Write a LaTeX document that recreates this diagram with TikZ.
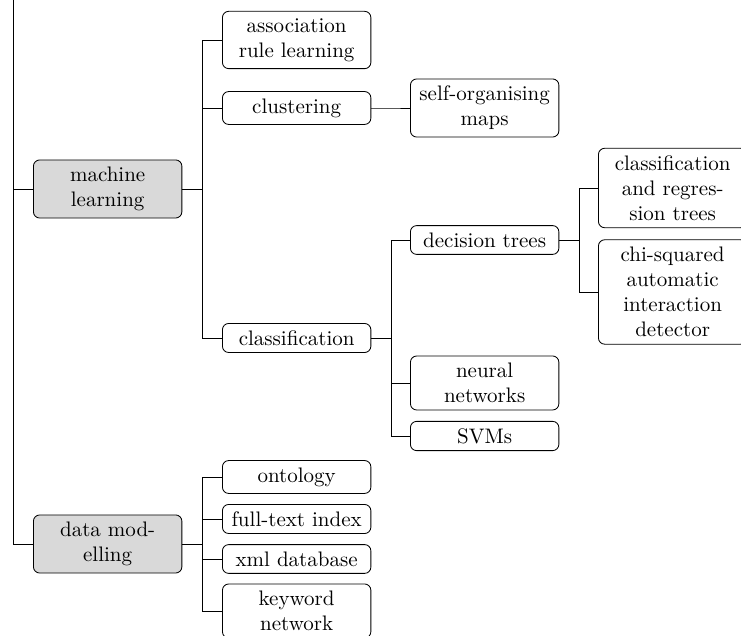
\documentclass[tikz,border=0pt]{standalone}
\usepackage{tikz}

\begin{document}
\begin{tikzpicture}[x=0.476pt, y=-0.476pt,
  leaf/.style={draw, rounded corners=3pt, text width=64pt, align=center, anchor=west},
  topic/.style={leaf, fill=black!15}]
  \useasboundingbox (0,0) rectangle (741,636);
  \clip (0,0) rectangle (741,636);

  % ---- first level: topics ----
  \node[topic] (ml) at (33,189) {machine\\learning};
  \node[topic] (dm) at (33,544) {data mod-\\elling};

  % ---- second level ----
  \node[leaf] (assoc)   at (222,40)  {association\\rule learning};
  \node[leaf] (clust)   at (222,108) {clustering};
  \node[leaf] (classif) at (222,338) {classification};
  \node[leaf] (onto)    at (222,477) {ontology};
  \node[leaf] (fti)     at (222,519) {full-text index};
  \node[leaf] (xml)     at (222,559) {xml database};
  \node[leaf] (kw)      at (222,611) {keyword\\network};

  % ---- third level ----
  \node[leaf] (som)   at (410,108) {self-organising\\maps};
  \node[leaf] (dtree) at (410,240) {decision trees};
  \node[leaf] (nn)    at (410,383) {neural\\networks};
  \node[leaf] (svm)   at (410,436) {SVMs};

  % ---- fourth level ----
  \node[leaf] (cart)  at (598,188) {classification\\and regres-\\sion trees};
  \node[leaf] (chaid) at (598,292) {chi-squared\\automatic\\interaction\\detector};

  % ---- connectors: root line ----
  \coordinate (top) at (13.5,-20);
  \foreach \c in {ml, dm} {
    \draw (top) |- (\c.west);
  }
  % ---- connectors: forks ----
  \foreach \p/\c in {ml/assoc, ml/clust, ml/classif, dm/onto, dm/fti, dm/xml, dm/kw,
                     clust/som, classif/dtree, classif/nn, classif/svm,
                     dtree/cart, dtree/chaid} {
    \draw (\p.east) -- ++(20,0) |- (\c.west);
  }
\end{tikzpicture}
\end{document}
